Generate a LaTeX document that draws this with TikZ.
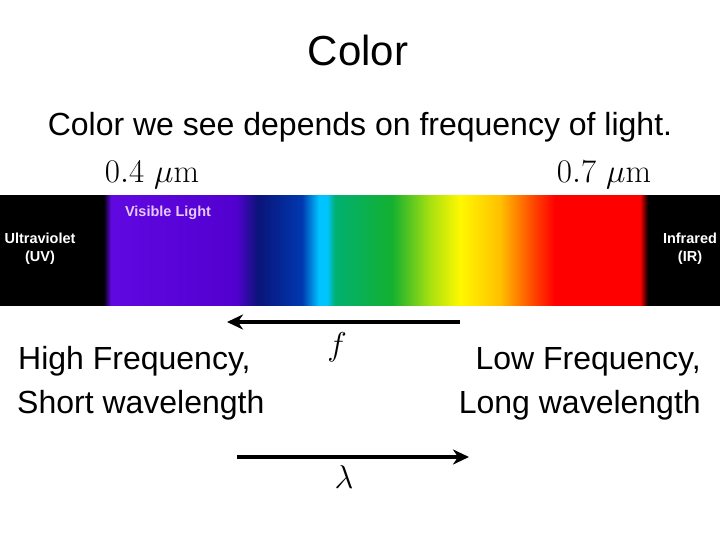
\RequirePackage{fix-cm}
\documentclass[tikz,border=0pt]{standalone}
\usepackage{amsmath}
\usepackage{fontspec}
\newfontfamily\arialfont{Liberation Sans}
\usepackage{tikz}
\usetikzlibrary{arrows.meta, positioning}

\definecolor{uvviolet}{HTML}{6008E0}
\definecolor{deepviolet}{HTML}{5200D0}
\definecolor{navyblue}{HTML}{0A1478}
\definecolor{midblue}{HTML}{0038B0}
\definecolor{skycyan}{HTML}{00C4FF}
\definecolor{seagreen}{HTML}{00B070}
\definecolor{leafgreen}{HTML}{14B030}
\definecolor{limegreen}{HTML}{A8E010}
\definecolor{sunyellow}{HTML}{FFF800}
\definecolor{amber}{HTML}{FFC000}
\definecolor{redorange}{HTML}{FF4000}
\definecolor{purered}{HTML}{FF0000}
\definecolor{lavender}{HTML}{E6C8FF}

% inner 25bp--75bp of the shading spans the band from x = 0 to x = 720
\pgfdeclarehorizontalshading{spectrum}{100bp}{
  color(0bp)=(black); color(25bp)=(black); color(32.2bp)=(black);
  color(32.7bp)=(uvviolet); color(41.4bp)=(deepviolet); color(42.9bp)=(navyblue);
  color(45.97bp)=(midblue); color(47.15bp)=(skycyan); color(47.71bp)=(skycyan);
  color(48.26bp)=(seagreen); color(52.22bp)=(leafgreen); color(54.86bp)=(limegreen);
  color(56.94bp)=(sunyellow); color(59.72bp)=(amber); color(62.15bp)=(redorange);
  color(63.54bp)=(purered); color(69.44bp)=(purered); color(70bp)=(black);
  color(75bp)=(black); color(100bp)=(black)}

\tikzset{
  bigtext/.style = {font=\arialfont\fontsize{32}{38}\selectfont, inner sep=0pt},
  bandtext/.style = {font=\arialfont\bfseries\fontsize{14.5}{18}\selectfont, text=white, align=center, inner sep=0pt},
  mathtext/.style = {font=\fontsize{33}{40}\selectfont, inner sep=0pt},
  direction/.style = {line width=4pt, -{Stealth[length=16pt, width=15pt, inset=5pt]}}
}

\begin{document}
\begin{tikzpicture}[x = 1pt, y = -1pt]
			\useasboundingbox[fill = white] (0, 0) rectangle (720, 540);
			% spectrum band
			\shade[shading = spectrum] (0, 196) rectangle (720, 305);
			\node[bandtext] (uv) at (40, 249){Ultraviolet\\(UV)};
			\node[bandtext] (ir) at (690, 249){Infrared\\(IR)};
			\node[bandtext, text = lavender] (visible) at (168, 213){Visible Light};
			% titles
			\node[font = \arialfont\fontsize{42}{50}\selectfont, inner sep = 0pt, anchor = base] (title) at (358, 66){Color};
			\node[bigtext, anchor = base] (subtitle) at (360, 136){Color we see depends on frequency of light.};
			\node[mathtext, anchor = base] (short) at (152, 183){$0.4\ \mu\mathrm{m}$};
			\node[mathtext, anchor = base] (long) at (604, 183){$0.7\ \mu\mathrm{m}$};
			% side labels
			\node[bigtext, anchor = base west] (high) at (18, 369){High Frequency,};
			\node[bigtext, anchor = base west] (shortwave) at (17, 413){Short wavelength};
			\node[bigtext, anchor = base east] (low) at (701, 369){Low Frequency,};
			\node[bigtext, anchor = base east] (longwave) at (701, 413){Long wavelength};
			% arrows
			\coordinate (fstart) at (460, 322);
			\coordinate (fend) at (227, 322);
			\coordinate (lstart) at (237, 457);
			\coordinate (lend) at (469, 457);
			\draw[direction] (fstart) -- (fend);
			\draw[direction] (lstart) -- (lend);
			\node[mathtext] (freq) at (337, 347){$f$};
			\node[mathtext] (wave) at (344, 477){$\lambda$};
		\end{tikzpicture}
\end{document}
